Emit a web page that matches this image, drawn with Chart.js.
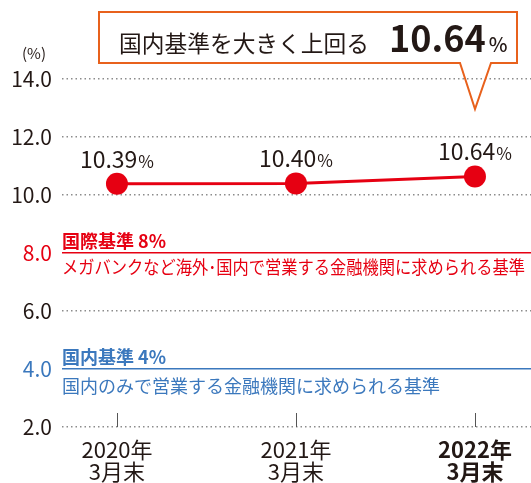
<!DOCTYPE html>
<html lang="ja">
<head>
<meta charset="utf-8">
<script src="https://cdn.jsdelivr.net/npm/chart.js@4"></script>
<style>
  html, body { margin: 0; padding: 0; background: #fff; }
</style>
</head>
<body>
<canvas id="ratioChart" width="531" height="483"></canvas>
<script>
const years = ['2020年', '2021年', '2022年'];
const months = ['3月末', '3月末', '3月末'];
const ratios = [10.39, 10.40, 10.64];
const yTicks = [2, 4, 6, 8, 10, 12, 14];
const intlLevel = 8;
const domesticLevel = 4;

const intlTitle = '国際基準 8%';
const intlNote = 'メガバンクなど海外･国内で営業する金融機関に求められる基準';
const domTitle = '国内基準 4%';
const domNote = '国内のみで営業する金融機関に求められる基準';
const calloutText = '国内基準を大きく上回る';

const colors = {
    text: '#231815',
    red: '#e60012',
    blue: '#3b78bd',
    orange: '#e8611c',
    grid: '#8c8c8c',
    tick: '#555555'
};
const FONT = "'Noto Sans CJK JP', 'Noto Sans', sans-serif";

// labels over the points, ref line captions, callout box, short x tick marks
const overlay = {
    id: 'overlay',
    afterDatasetsDraw(chart) {
        const ctx = chart.ctx;
        const meta = chart.getDatasetMeta(0);
        ctx.save();
        ctx.fillStyle = colors.text;
        ctx.textBaseline = 'alphabetic';
        meta.data.forEach((pt, i) => {
            const num = ratios[i].toFixed(2);
            ctx.font = `23px ${FONT}`;
            const w1 = ctx.measureText(num).width;
            ctx.font = `17px ${FONT}`;
            const w2 = ctx.measureText('%').width;
            const left = pt.x - (w1 + w2 + 1) / 2;
            ctx.font = `23px ${FONT}`;
            ctx.fillText(num, left, pt.y - 16);
            ctx.font = `17px ${FONT}`;
            ctx.fillText('%', left + w1 + 1, pt.y - 16);
        });
        ctx.restore();
    },
    afterDraw(chart) {
        const ctx = chart.ctx;
        const area = chart.chartArea;
        const y = chart.scales.y;
        const x = chart.scales.x;
        ctx.save();

        // tick marks standing on the 2.0 line
        ctx.strokeStyle = colors.tick;
        ctx.lineWidth = 1;
        years.forEach((_, i) => {
            const px = Math.round(x.getPixelForValue(i)) + 0.5;
            ctx.beginPath();
            ctx.moveTo(px, area.bottom - 14);
            ctx.lineTo(px, area.bottom);
            ctx.stroke();
        });

        // reference line captions
        const yi = y.getPixelForValue(intlLevel);
        const yd = y.getPixelForValue(domesticLevel);
        ctx.textBaseline = 'middle';
        ctx.fillStyle = colors.red;
        ctx.font = `bold 18px ${FONT}`;
        ctx.fillText(intlTitle, area.left, yi - 12);
        ctx.font = `18px ${FONT}`;
        ctx.fillText(intlNote, area.left, yi + 14, 463);
        ctx.fillStyle = colors.blue;
        ctx.font = `bold 18px ${FONT}`;
        ctx.fillText(domTitle, area.left, yd - 12);
        ctx.font = `18px ${FONT}`;
        ctx.fillText(domNote, area.left, yd + 17, 378);

        // unit
        ctx.fillStyle = colors.text;
        ctx.font = `15px ${FONT}`;
        ctx.fillText('(%)', 22, 53);

        // callout
        ctx.strokeStyle = colors.orange;
        ctx.lineWidth = 2;
        ctx.fillStyle = '#fff';
        ctx.fillRect(99, 12, 418, 51);
        ctx.beginPath();
        ctx.moveTo(99, 12);
        ctx.lineTo(517, 12);
        ctx.lineTo(517, 63);
        ctx.lineTo(491, 63);
        ctx.lineTo(475, 109);
        ctx.lineTo(460, 63);
        ctx.lineTo(99, 63);
        ctx.closePath();
        ctx.stroke();

        ctx.fillStyle = colors.text;
        ctx.textBaseline = 'middle';
        ctx.font = `23px ${FONT}`;
        ctx.fillText(calloutText, 119, 43, 250);
        ctx.textBaseline = 'alphabetic';
        const last = ratios[ratios.length - 1].toFixed(2);
        ctx.font = `bold 36px ${FONT}`;
        ctx.fillText(last, 389, 52);
        const lw = ctx.measureText(last).width;
        ctx.font = `500 20px ${FONT}`;
        ctx.fillText('%', 389 + lw + 3, 52);
        ctx.restore();
    }
};

new Chart(document.getElementById('ratioChart'), {
    type: 'line',
    data: {
        datasets: [{
            data: ratios.map((v, i) => ({ x: i, y: v })),
            borderColor: colors.red,
            backgroundColor: colors.red,
            borderWidth: 3,
            pointRadius: 11,
            pointHoverRadius: 11,
            pointBorderWidth: 0,
            tension: 0
        }]
    },
    options: {
        responsive: false,
        animation: false,
        devicePixelRatio: 1,
        layout: {
            autoPadding: false,
            padding: { top: 79, right: 0, left: 0, bottom: 0 }
        },
        plugins: {
            legend: { display: false },
            tooltip: { enabled: false }
        },
        scales: {
            x: {
                type: 'linear',
                min: -0.307,
                max: 2.313,
                afterBuildTicks: (scale) => {
                    scale.ticks = years.map((_, i) => ({ value: i }));
                },
                afterFit: (scale) => {
                    scale.height = 56;
                    scale.paddingLeft = 0;
                    scale.paddingRight = 0;
                },
                grid: { display: false },
                border: { display: false },
                ticks: {
                    padding: 4,
                    color: colors.text,
                    autoSkip: false,
                    maxRotation: 0,
                    font: (c) => ({
                        family: FONT,
                        size: 22,
                        lineHeight: 1.0,
                        weight: c.index === 2 ? 'bold' : 'normal'
                    }),
                    callback: (v) => [years[v], months[v]]
                }
            },
            y: {
                min: 2,
                max: 14,
                afterBuildTicks: (scale) => {
                    scale.ticks = yTicks.map(v => ({ value: v }));
                },
                afterFit: (scale) => { scale.width = 62; },
                grid: {
                    drawTicks: false,
                    lineWidth: 1.5,
                    color: (c) => {
                        const v = c.tick && c.tick.value;
                        if (v === intlLevel) return colors.red;
                        if (v === domesticLevel) return colors.blue;
                        return colors.grid;
                    }
                },
                border: {
                    display: false,
                    dash: (c) => {
                        const v = c.tick && c.tick.value;
                        return (v === intlLevel || v === domesticLevel) ? [] : [1.5, 3];
                    }
                },
                ticks: {
                    padding: 10,
                    font: { family: FONT, size: 21 },
                    color: (c) => {
                        const v = c.tick && c.tick.value;
                        if (v === intlLevel) return colors.red;
                        if (v === domesticLevel) return colors.blue;
                        return colors.text;
                    },
                    callback: (v) => v.toFixed(1)
                }
            }
        }
    },
    plugins: [overlay]
});
</script>
</body>
</html>
